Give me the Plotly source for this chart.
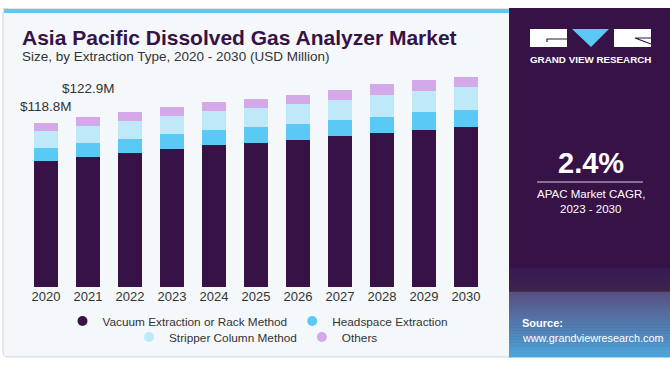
import plotly.graph_objects as go

W, H = 670, 367

years = ["2020", "2021", "2022", "2023", "2024", "2025", "2026", "2027", "2028", "2029", "2030"]
vacuum = [91.3, 94.2, 97.2, 99.9, 102.8, 104.5, 106.7, 109.3, 111.3, 113.5, 115.9]
headspace = [9.4, 9.9, 9.9, 10.7, 10.9, 11.1, 11.6, 11.6, 12.1, 13.1, 12.6]
stripper = [12.3, 12.7, 13.1, 13.3, 13.8, 14.1, 14.3, 14.8, 15.5, 15.5, 16.7]
others = [5.8, 6.1, 6.3, 6.3, 6.5, 6.8, 6.8, 7.3, 8.2, 7.5, 7.1]
series_names = ["Vacuum Extraction or Rack Method", "Headspace Extraction",
                "Stripper Column Method", "Others"]
colors = ["#371247", "#5bc9f5", "#bfe9f9", "#d3a9ea"]
value_labels = {"2020": "$118.8M", "2021": "$122.9M"}
cagr_text = "2.4%"

def px(x):
    return x / W

def py(y):
    return 1 - y / H

FONT = "Liberation Sans"
fig = go.Figure()

series = [vacuum, headspace, stripper, others]
for name, vals, col in zip(series_names, series, colors):
    fig.add_trace(go.Bar(x=years, y=vals, name=name, marker=dict(color=col, line=dict(width=0)),
                         width=0.58, showlegend=False, hoverinfo="y"))

for i, (name, col) in enumerate(zip(series_names, colors)):
    fig.add_trace(go.Scatter(x=[years[0]], y=[None], mode="markers", name=name,
                             marker=dict(color=col, size=10, symbol="circle"),
                             legend="legend" if i < 2 else "legend2"))

totals = [a + b + c + d for a, b, c, d in zip(vacuum, headspace, stripper, others)]
shifts = {"2020": 7, "2021": 19}
for yr, txt in value_labels.items():
    i = years.index(yr)
    fig.add_annotation(x=i, y=totals[i], xref="x", yref="y", text=txt, showarrow=False,
                       yanchor="bottom", yshift=shifts[yr],
                       font=dict(family=FONT, size=13.5, color="#333333"))

ppm = 164 / 118.8
bottom_px, top_px = 287, 60
shapes = []
# left panel (rounded corners)
r = 5
lx0, lx1, ly0, ly1 = 3, 512, 9, 357
path = ("M %f,%f L %f,%f L %f,%f L %f,%f Q %f,%f %f,%f L %f,%f Q %f,%f %f,%f Z" % (
    px(lx0), py(ly0), px(lx1), py(ly0), px(lx1), py(ly1), px(lx0 + r), py(ly1),
    px(lx0), py(ly1), px(lx0), py(ly1 - r), px(lx0), py(ly0 + r),
    px(lx0), py(ly0), px(lx0 + r), py(ly0)))
shapes.append(dict(type="path", xref="paper", yref="paper", path=path,
                   fillcolor="#f4f8fb", line=dict(color="#cfd3d6", width=1), layer="below"))
shapes.append(dict(type="rect", xref="paper", yref="paper", x0=px(4), x1=px(512), y0=py(13), y1=py(9),
                   fillcolor="#5bc9f5", line=dict(width=0), layer="below"))
# right panel
shapes.append(dict(type="rect", xref="paper", yref="paper", x0=px(509), x1=px(670), y0=py(357), y1=py(8),
                   fillcolor="#371247", line=dict(width=0), layer="below"))
# gradient bottom of right panel
grad_top, grad_bot = 268, 357
c0 = (0x3a, 0x1a, 0x52)
c1 = (0x5a, 0x50, 0x82)
c2 = (0x4c, 0xa9, 0xdf)
n = 30
for k in range(n):
    y0 = grad_top + (grad_bot - grad_top) * k / n
    y1 = grad_top + (grad_bot - grad_top) * (k + 1) / n
    if y0 < 291:
        tt = (y0 - grad_top) / (291 - grad_top)
        c = tuple(int(c0[j] + (0x42 - c0[j]) * tt * 0.3) for j in range(3))
    else:
        tt = (y0 - 291) / (grad_bot - 291)
        c = tuple(int(c1[j] + (c2[j] - c1[j]) * tt) for j in range(3))
    shapes.append(dict(type="rect", xref="paper", yref="paper", x0=px(509), x1=px(670),
                       y0=py(y1 + 0.5), y1=py(y0), fillcolor="rgb(%d,%d,%d)" % c,
                       line=dict(width=0), layer="below"))
# logo
shapes.append(dict(type="rect", xref="paper", yref="paper", x0=px(530), x1=px(567), y0=py(47), y1=py(29),
                   fillcolor="white", line=dict(width=0)))
shapes.append(dict(type="rect", xref="paper", yref="paper", x0=px(614), x1=px(651), y0=py(47), y1=py(29),
                   fillcolor="white", line=dict(width=0)))
shapes.append(dict(type="path", xref="paper", yref="paper",
                   path="M %f,%f L %f,%f L %f,%f Z" % (px(572), py(29), px(609), py(29), px(591), py(47)),
                   fillcolor="#5bc9f5", line=dict(width=0)))
shapes.append(dict(type="path", xref="paper", yref="paper",
                   path="M %f,%f L %f,%f L %f,%f" % (px(567), py(39), px(547), py(39), px(547), py(42)),
                   line=dict(color="#371247", width=1.2)))
shapes.append(dict(type="path", xref="paper", yref="paper",
                   path="M %f,%f L %f,%f L %f,%f" % (px(651), py(38), px(635), py(38), px(651), py(44)),
                   line=dict(color="#371247", width=1.2)))
# line under CAGR
shapes.append(dict(type="line", xref="paper", yref="paper", x0=px(537), x1=px(643), y0=py(182), y1=py(182),
                   line=dict(color="#d8d0e0", width=1.2)))

ann = [
    dict(text="<b>Asia Pacific Dissolved Gas Analyzer Market</b>", x=px(20), y=py(37),
         xanchor="left", yanchor="middle", font=dict(family=FONT, size=21, color="#371247")),
    dict(text="Size, by Extraction Type, 2020 - 2030 (USD Million)", x=px(20), y=py(57),
         xanchor="left", yanchor="middle", font=dict(family=FONT, size=13.5, color="#333333")),
    dict(text="<b>GRAND VIEW RESEARCH</b>", x=px(590.5), y=py(59), xanchor="center", yanchor="middle",
         font=dict(family=FONT, size=9.8, color="white")),
    dict(text="<b>" + cagr_text + "</b>", x=px(590.5), y=py(163), xanchor="center", yanchor="middle",
         font=dict(family=FONT, size=29, color="white")),
    dict(text="APAC Market CAGR,", x=px(590.5), y=py(194), xanchor="center", yanchor="middle",
         font=dict(family=FONT, size=11.5, color="white")),
    dict(text="2023 - 2030", x=px(590.5), y=py(209), xanchor="center", yanchor="middle",
         font=dict(family=FONT, size=11.5, color="white")),
    dict(text="<b>Source:</b>", x=px(520), y=py(323), xanchor="left", yanchor="middle",
         font=dict(family=FONT, size=11, color="white")),
    dict(text="www.grandviewresearch.com", x=px(520), y=py(338), xanchor="left", yanchor="middle",
         font=dict(family=FONT, size=10.8, color="white")),
]
for a in ann:
    a.update(xref="paper", yref="paper", showarrow=False)
    fig.add_annotation(**a)

fig.update_layout(
    width=W, height=H, margin=dict(l=0, r=0, t=0, b=0, autoexpand=False),
    paper_bgcolor="white", plot_bgcolor="rgba(0,0,0,0)",
    barmode="stack", bargap=0.42,
    shapes=shapes,
    font=dict(family=FONT, color="#333333"),
    xaxis=dict(type="category", domain=[px(25), px(487)], range=[-0.5, 10.5], showgrid=False,
               showline=False, ticks="", automargin=False,
               tickfont=dict(family=FONT, size=13, color="#333333"), fixedrange=True),
    yaxis=dict(domain=[py(bottom_px), py(top_px)], range=[0, (bottom_px - top_px) / ppm],
               visible=False, fixedrange=True, automargin=False),
    legend=dict(orientation="h", x=px(258), y=py(321), xanchor="center", yanchor="middle",
                bgcolor="rgba(0,0,0,0)", font=dict(family=FONT, size=11.8, color="#333333"),
                itemwidth=30, traceorder="normal"),
    legend2=dict(orientation="h", x=px(256), y=py(337), xanchor="center", yanchor="middle",
                 bgcolor="rgba(0,0,0,0)", font=dict(family=FONT, size=11.8, color="#333333"),
                 itemwidth=30, traceorder="normal"),
    showlegend=True,
)

fig.write_html("out.html", config={"displayModeBar": False},
               post_script="document.body.style.margin='0';document.body.style.overflow='hidden';")
